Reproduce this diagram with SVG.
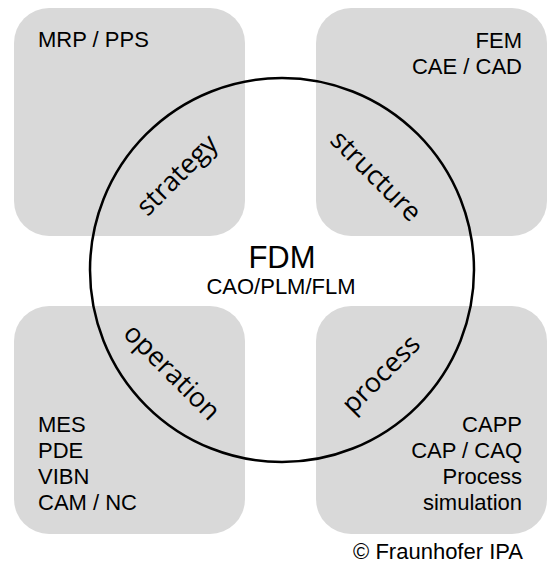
<svg xmlns="http://www.w3.org/2000/svg" width="550" height="566" viewBox="0 0 550 566">
<style>
.box{fill:#d9d9d9;}
.t{font-family:"Liberation Sans",Arial,sans-serif;font-size:22px;fill:#000;}
.r{text-anchor:end;}
.m{text-anchor:middle;}
.w{font-family:"Open Sans","Noto Sans",sans-serif;font-size:27px;fill:#000;text-anchor:middle;}
</style>
<rect width="550" height="566" fill="#fff"/>
<g id="strategy-box">
<rect class="box" x="14" y="8" width="231" height="228" rx="35"/>
<text class="t" x="38" y="47">MRP / PPS</text>
</g>
<g id="structure-box">
<rect class="box" x="316" y="8" width="231" height="228" rx="35"/>
<text class="t r" x="522" y="48">FEM</text>
<text class="t r" x="522" y="74">CAE / CAD</text>
</g>
<g id="operation-box">
<rect class="box" x="14" y="306" width="231" height="228" rx="35"/>
<text class="t" x="38" y="432">MES</text>
<text class="t" x="38" y="458">PDE</text>
<text class="t" x="38" y="484">VIBN</text>
<text class="t" x="38" y="510">CAM / NC</text>
</g>
<g id="process-box">
<rect class="box" x="316" y="306" width="231" height="228" rx="35"/>
<text class="t r" x="522" y="432">CAPP</text>
<text class="t r" x="522" y="458">CAP / CAQ</text>
<text class="t r" x="522" y="484">Process</text>
<text class="t r" x="522" y="510">simulation</text>
</g>
<g id="fdm">
<circle cx="282" cy="270" r="192" fill="none" stroke="#000" stroke-width="2.5"/>
<text class="t m" x="282" y="268" style="font-size:31px">FDM</text>
<text class="t m" x="281" y="294">CAO/PLM/FLM</text>
<text class="w" transform="translate(177,175) rotate(-45)" y="9">strategy</text>
<text class="w" transform="translate(376,176) rotate(45)" y="9">structure</text>
<text class="w" transform="translate(172,372) rotate(45)" y="9">operation</text>
<text class="w" transform="translate(381,374) rotate(-45)" y="9">process</text>
</g>
<text class="t r" x="523" y="559">© Fraunhofer IPA</text>
</svg>
